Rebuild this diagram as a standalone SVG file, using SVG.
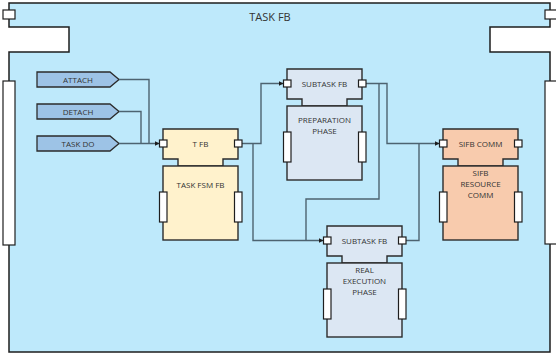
<svg xmlns="http://www.w3.org/2000/svg" xmlns:xlink="http://www.w3.org/1999/xlink" width="556" height="353" viewBox="0 0 556 353">
  <style>
    text { font-family: "Open Sans", "Noto Sans", "DejaVu Sans", sans-serif; fill: #333; text-anchor: middle; }
    .lbl { font-size: 8px; }
    .title { font-size: 11px; }
    .frame { fill: #BEE9FB; stroke: #1e1e1e; stroke-width: 1.5; }
    .port { fill: #fff; stroke: #1e1e1e; stroke-width: 1.2; }
    .outline { stroke: #2b2b2b; stroke-width: 1.4; }
    .event { fill: #9DC3E6; stroke: #2b2b2b; stroke-width: 1.3; }
    .yellow { fill: #FFF2CC; }
    .grey { fill: #DCE7F3; }
    .salmon { fill: #F8CBAD; }
    .wire { fill: none; stroke: #4d6370; stroke-width: 1.4; }
  </style>
  <defs>
    <marker id="arrow" markerUnits="userSpaceOnUse" markerWidth="6" markerHeight="6" refX="5" refY="2.5" orient="auto">
      <path d="M0,0 L5,2.5 L0,5 Z" fill="#1e1e1e"/>
    </marker>
    <!-- function block outline: head with neck, then body -->
    <path id="fbHead" class="outline" d="M0,0 H75 V30 H60 V37 H15 V30 H0 Z"/>
    <rect id="fbBody" class="outline" x="0" y="37" width="75" height="74"/>
    <g id="fbPorts">
      <rect class="port" x="-3.5" y="11" width="7.5" height="7"/>
      <rect class="port" x="71.5" y="11" width="7.5" height="7"/>
      <rect class="port" x="-3.5" y="63" width="7.5" height="30"/>
      <rect class="port" x="71.5" y="63" width="7.5" height="30"/>
    </g>
  </defs>

  <!-- outer composite block -->
  <g id="task-fb">
    <path class="frame" d="M9,3 H550 V27 H490 V52 H550 V352 H9 V52 H69 V27 H9 Z"/>
    <rect class="port" x="3" y="10" width="12" height="9"/>
    <rect class="port" x="545" y="10" width="12" height="9"/>
    <rect class="port" x="3" y="81" width="12" height="164"/>
    <rect class="port" x="545" y="81" width="12" height="163"/>
    <text class="title" x="270" y="21">TASK FB</text>
  </g>

  <!-- event inputs -->
  <g id="in-attach">
    <path class="event" d="M37,72 H110 L119,79.5 L110,87 H37 Z"/>
    <text class="lbl" x="78" y="82.5">ATTACH</text>
  </g>
  <g id="in-detach">
    <path class="event" d="M37,104 H110 L119,111.5 L110,119 H37 Z"/>
    <text class="lbl" x="78" y="114.5">DETACH</text>
  </g>
  <g id="in-taskdo">
    <path class="event" d="M37,136 H110 L119,143.5 L110,151 H37 Z"/>
    <text class="lbl" x="78" y="146.5">TASK DO</text>
  </g>

  <!-- connectors -->
  <g id="connectors">
    <path class="wire" d="M119,79.5 H149 V143.5"/>
    <path class="wire" d="M119,111.5 H141 V143.5"/>
    <path class="wire" d="M119,143.5 H159.5" marker-end="url(#arrow)"/>
    <path class="wire" d="M242,143.5 H261 V83.5 H283.5" marker-end="url(#arrow)"/>
    <path class="wire" d="M253,143.5 V240.5 H323.5" marker-end="url(#arrow)"/>
    <path class="wire" d="M366,83.5 H387 V143.5 H439.5" marker-end="url(#arrow)"/>
    <path class="wire" d="M379,83.5 V199 H306 V240.5"/>
    <path class="wire" d="M406,240.5 H419 V143.5"/>
  </g>

  <g id="t-fb" transform="translate(163,129)">
    <use xlink:href="#fbHead" class="yellow"/>
    <use xlink:href="#fbBody" class="yellow"/>
    <use xlink:href="#fbPorts"/>
    <text class="lbl" x="37.5" y="18">T FB</text>
    <text class="lbl" x="37.5" y="59">TASK FSM FB</text>
  </g>

  <g id="subtask-prep" transform="translate(287,69)">
    <use xlink:href="#fbHead" class="grey"/>
    <use xlink:href="#fbBody" class="grey"/>
    <use xlink:href="#fbPorts"/>
    <text class="lbl" x="37.5" y="18">SUBTASK FB</text>
    <text class="lbl" x="37.5" y="54">PREPARATION</text>
    <text class="lbl" x="37.5" y="65">PHASE</text>
  </g>

  <g id="sifb-comm" transform="translate(443,129)">
    <use xlink:href="#fbHead" class="salmon"/>
    <use xlink:href="#fbBody" class="salmon"/>
    <use xlink:href="#fbPorts"/>
    <text class="lbl" x="37.5" y="18">SIFB COMM</text>
    <text class="lbl" x="37.5" y="47">SIFB</text>
    <text class="lbl" x="37.5" y="58">RESOURCE</text>
    <text class="lbl" x="37.5" y="69">COMM</text>
  </g>

  <g id="subtask-exec" transform="translate(327,226)">
    <use xlink:href="#fbHead" class="grey"/>
    <use xlink:href="#fbBody" class="grey"/>
    <use xlink:href="#fbPorts"/>
    <text class="lbl" x="37.5" y="18">SUBTASK FB</text>
    <text class="lbl" x="37.5" y="47">REAL</text>
    <text class="lbl" x="37.5" y="58">EXECUTION</text>
    <text class="lbl" x="37.5" y="69">PHASE</text>
  </g>
</svg>
